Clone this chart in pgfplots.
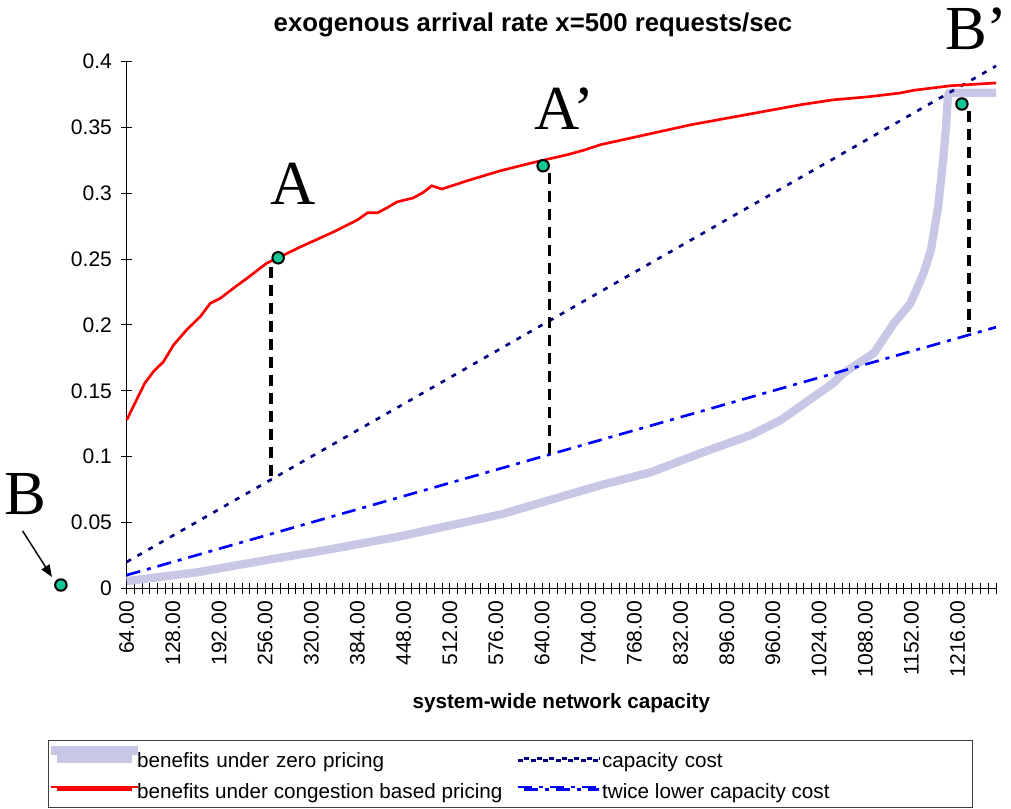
\documentclass[border=0pt]{standalone}
\usepackage{fontspec}
\setmainfont{Liberation Sans}
\newfontfamily\seriff{Liberation Serif}
\usepackage{pgfplots}
\pgfplotsset{compat=1.18}
\usetikzlibrary{arrows.meta}
\definecolor{lav}{RGB}{200,200,230}
\definecolor{navyc}{RGB}{0,0,128}
\definecolor{ptgreen}{RGB}{20,200,150}
\pgfplotsset{legimg/.style={legend image code/.code={\path (0pt,0pt) -- (56.25pt,0pt); \draw[##1,overlay] (-4.5pt,#1) -- (60.75pt,#1);}}}
\begin{document}
\begin{tikzpicture}
\useasboundingbox (-95.0pt,-165.5pt) rectangle (663.2pt,441.2pt);
\begin{axis}[
 at={(0pt,0pt)}, anchor=south west,
 scale only axis, width=652pt, height=395pt,
 xmin=64, xmax=1269.33, ymin=0, ymax=0.4,
 clip=false,
 axis x line*=bottom, axis y line*=left,
 axis line style={black, line width=0.8pt},
 xtick={64,128,...,1216},
 minor xtick={64,74.6667,...,1269.4},
 ytick={0,0.05,0.1,0.15,0.2,0.25,0.3,0.35,0.4},
 tick align=center, major tick length=8pt, minor tick length=8pt,
 every tick/.style={black, line width=0.75pt},
 minor tick style={black, line width=0.75pt},
 scaled ticks=false,
 /pgf/number format/assume math mode=true,
 tick label style={font=\fontsize{15.8}{18}\selectfont},
 xticklabel style={yshift=-2pt, rotate=90, anchor=east, /pgf/number format/fixed, /pgf/number format/fixed zerofill, /pgf/number format/precision=2, /pgf/number format/1000 sep={}},
 yticklabel style={xshift=-3.5pt, /pgf/number format/fixed, /pgf/number format/precision=2},
 title={exogenous arrival rate x=500 requests/sec},
 title style={at={(axis description cs:0.4674,1.0545)}, anchor=center, font=\fontsize{19.3}{23}\selectfont\bfseries},
 xlabel={system-wide network capacity},
 xlabel style={at={(axis description cs:0.5,-0.2178)}, anchor=center, font=\fontsize{15.5}{18}\selectfont\bfseries},
 legend columns=2, legend cell align=left,
 legend style={at={(axis description cs:-0.0905,-0.2881)}, anchor=north west, draw=black!75, line width=0.75pt, font=\fontsize{15.5}{18}\selectfont, inner xsep=3pt, inner ysep=4.5pt, nodes={inner sep=1pt, text height=15pt, text depth=1pt}, row sep=5.25pt, column sep=0pt},
 legimg=-1.5pt,
]
\addplot[lav, line width=6.2pt, line join=round, legimg=6pt] coordinates {
(64,0.0055) (160,0.0120) (253,0.0210) (350,0.0300) (443,0.0395) (582,0.0560)
(721,0.0783) (791,0.0882) (860,0.1027) (929,0.1163) (971,0.1278) (1044,0.1560)
(1058,0.1635) (1100,0.1787) (1128,0.2015) (1151,0.2167) (1169,0.2395) (1179,0.2570)
(1189,0.2897) (1196,0.3255) (1200,0.3506) (1202.5,0.3730) (1204,0.3764) (1269.33,0.3764)
};
\addlegendentry[text width=288.5pt]{benefits under zero pricing}
\addplot[navyc, line width=2pt, dash pattern=on 3.75pt off 5.6pt] coordinates {(64,0.02) (1269.33,0.39667)};
\addlegendentry[text width=274pt]{capacity cost}
\addplot[red, line width=2pt, legimg=2pt] coordinates {
(64,0.1278) (89,0.1557) (101,0.1645) (115,0.1721) (129,0.1848) (147,0.1962)
(166,0.2063) (180,0.2165) (194,0.2203) (212,0.2279) (231,0.2355) (258,0.2469)
(274,0.2510) (305,0.2593) (351,0.2707) (384,0.2798) (398,0.2852) (412,0.2852)
(425,0.2890) (439,0.2935) (461,0.2964) (475,0.3006) (487,0.3057) (501,0.3032)
(536,0.3095) (582,0.3171) (628,0.3234) (675,0.3293) (697,0.3326) (721,0.3369)
(846,0.3520) (999,0.3673) (1044,0.3710) (1091,0.3732) (1137,0.3762) (1155,0.3782)
(1207,0.3817) (1269.33,0.3838)
};
\addlegendentry{benefits under congestion based pricing}
\addplot[blue, line width=2pt, dash pattern=on 10.5pt off 5.25pt on 3pt off 5.25pt, legimg=2pt] coordinates {(64,0.01) (1269.33,0.19833)};
\addlegendentry{twice lower capacity cost}
\addplot[black, line width=2.5pt, dash pattern=on 8.25pt off 5.25pt, forget plot] coordinates {(264.3,0.2443) (264.3,0.0826)};
\addplot[black, line width=2.5pt, dash pattern=on 8.25pt off 5.25pt, forget plot] coordinates {(650.5,0.3156) (650.5,0.1016)};
\addplot[black, line width=2.5pt, dash pattern=on 8.25pt off 5.25pt, forget plot] coordinates {(1232,0.3622) (1232,0.1950)};
\addplot[only marks, mark=*, mark size=4.3pt, mark options={fill=ptgreen, draw=black, line width=1.5pt}, forget plot] coordinates {(274,0.251) (641.4,0.3209) (1222,0.3678) (-27.2,0.0025)};
\node[anchor=base, inner sep=0pt, font=\fontsize{47}{50}\selectfont\seriff] at (axis cs:295,0.2913) {A};
\node[anchor=base, inner sep=0pt, font=\fontsize{47}{50}\selectfont\seriff] at (axis cs:671,0.3485) {A’};
\node[anchor=base, inner sep=0pt, font=\fontsize{47}{50}\selectfont\seriff] at (axis cs:-75.8,0.0557) {B};
\node[anchor=base, inner sep=0pt, font=\fontsize{47}{50}\selectfont\seriff] at (axis cs:1242,0.4094) {B’};
\draw[line width=1.1pt, -{Triangle[length=9pt,width=7pt]}] (axis cs:-80.3,0.0436) -- (axis cs:-39.6,0.0086);
\end{axis}
\end{tikzpicture}
\end{document}
